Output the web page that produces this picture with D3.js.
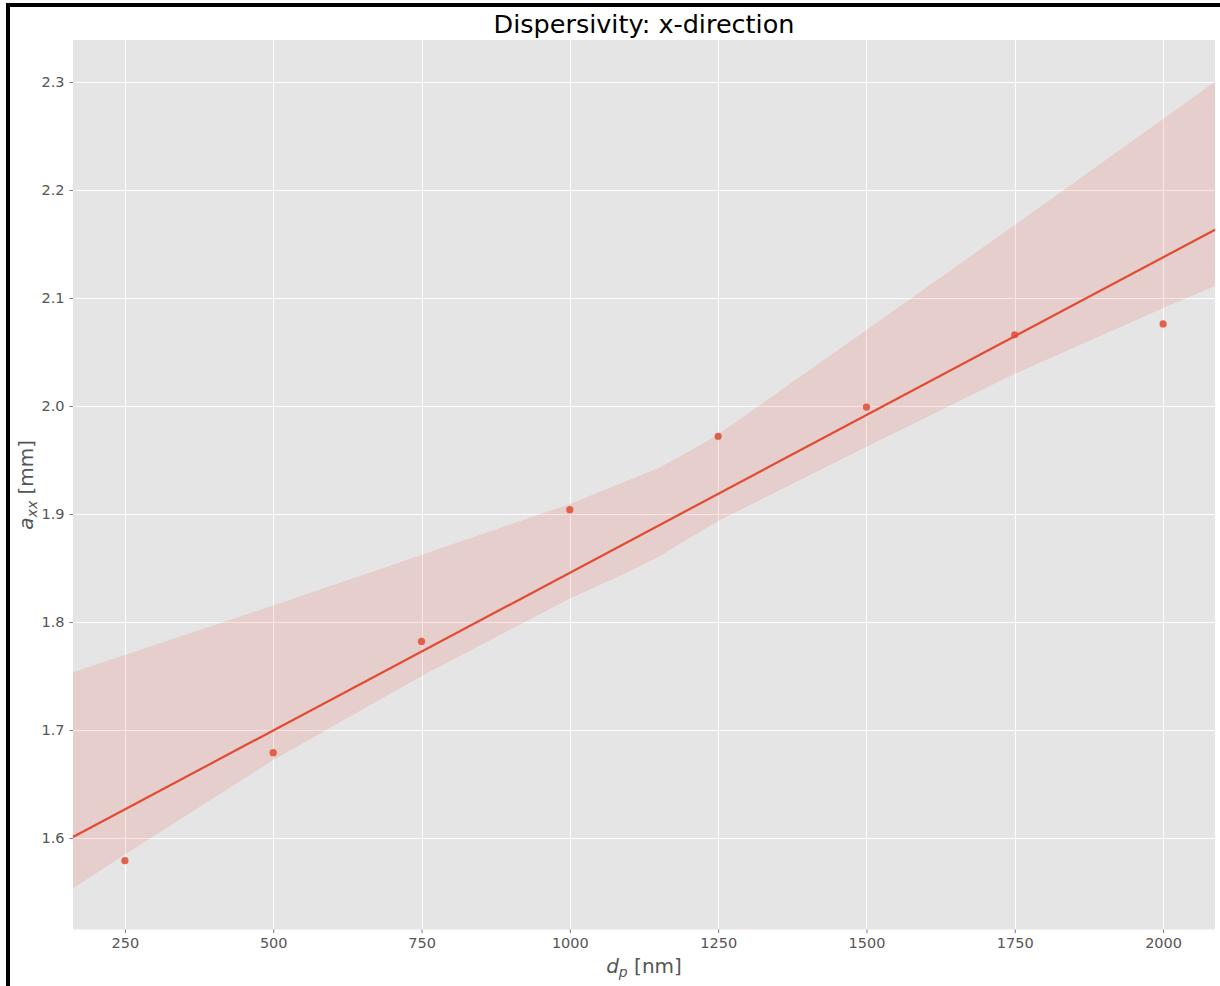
<!DOCTYPE html>
<html>
<head>
<meta charset="utf-8">
<script src="https://cdn.jsdelivr.net/npm/d3@7"></script>
<style>
  html, body { margin: 0; padding: 0; background: #ffffff; }
  svg { display: block; }
  text { font-family: "DejaVu Sans", sans-serif; }
</style>
</head>
<body>
<script>
// Particle diameter (nm) and measured longitudinal dispersivity (mm)
const diameters = [250, 500, 750, 1000, 1250, 1500, 1750, 2000];
const dispersivity = [1.579, 1.679, 1.782, 1.904, 1.972, 1.999, 2.066, 2.076];

// 95% confidence band of the regression (bootstrap), sampled along x
const bandX     = [162.5, 250, 500, 750, 1000, 1100, 1150, 1200, 1250, 1500, 1750, 2000, 2087.5];
const bandUpper = [1.7534, 1.7694, 1.8153, 1.8621, 1.9093, 1.9315, 1.9425, 1.9577, 1.9736, 2.0704, 2.1676, 2.2657, 2.3003];
const bandLower = [1.5534, 1.5847, 1.6722, 1.7500, 1.8218, 1.8467, 1.8605, 1.8774, 1.8935, 1.9623, 2.0299, 2.0907, 2.1111];

// Axis ticks
const xTicks = [250, 500, 750, 1000, 1250, 1500, 1750, 2000];
const yTicks = [1.6, 1.7, 1.8, 1.9, 2.0, 2.1, 2.2, 2.3];

const W = 1220, H = 986;
const plot = { left: 73, top: 40, right: 1215, bottom: 929.5 };
const red = "#E24A33";

const svg = d3.select("body").append("svg")
  .attr("width", W).attr("height", H);

const x = d3.scaleLinear().domain([162.5, 2087.5]).range([plot.left, plot.right]);
const y = d3.scaleLinear().domain([1.5153, 2.3389]).range([plot.bottom, plot.top]);

// Panel background
svg.append("rect")
  .attr("x", plot.left).attr("y", plot.top)
  .attr("width", plot.right - plot.left).attr("height", plot.bottom - plot.top)
  .attr("fill", "#E5E5E5");

// Grid
const grid = svg.append("g").attr("stroke", "#ffffff").attr("stroke-width", 1);
grid.selectAll("line.gx").data(xTicks).join("line")
  .attr("x1", d => Math.round(x(d)) + 0.5).attr("x2", d => Math.round(x(d)) + 0.5)
  .attr("y1", plot.top).attr("y2", plot.bottom);
grid.selectAll("line.gy").data(yTicks).join("line")
  .attr("y1", d => Math.round(y(d)) + 0.5).attr("y2", d => Math.round(y(d)) + 0.5)
  .attr("x1", plot.left).attr("x2", plot.right);

// Confidence band
const band = bandX.map((v, i) => ({ x: v, lo: bandLower[i], hi: bandUpper[i] }));
svg.append("path")
  .datum(band)
  .attr("fill", red).attr("fill-opacity", 0.15)
  .attr("d", d3.area().x(d => x(d.x)).y0(d => y(d.lo)).y1(d => y(d.hi)));

// Least-squares fit through the measurements
const mx = d3.mean(diameters), my = d3.mean(dispersivity);
const sxy = d3.sum(diameters, (d, i) => (d - mx) * (dispersivity[i] - my));
const sxx = d3.sum(diameters, d => (d - mx) * (d - mx));
const slope = sxy / sxx, intercept = my - slope * mx;
const fitX = x.domain();
svg.append("path")
  .datum(fitX.map(v => ({ x: v, y: intercept + slope * v })))
  .attr("fill", "none").attr("stroke", red).attr("stroke-width", 2.2)
  .attr("d", d3.line().x(d => x(d.x)).y(d => y(d.y)));

// Measurements
svg.append("g").selectAll("circle")
  .data(diameters.map((d, i) => ({ x: d, y: dispersivity[i] })))
  .join("circle")
  .attr("cx", d => x(d.x)).attr("cy", d => y(d.y)).attr("r", 3.6)
  .attr("fill", red).attr("fill-opacity", 0.85);

// Axes
const xAxis = svg.append("g")
  .attr("transform", `translate(0,${plot.bottom})`)
  .call(d3.axisBottom(x).tickValues(xTicks).tickFormat(d3.format("d"))
    .tickSizeInner(3.5).tickSizeOuter(0).tickPadding(5));
const yAxis = svg.append("g")
  .attr("transform", `translate(${plot.left},0)`)
  .call(d3.axisLeft(y).tickValues(yTicks).tickFormat(d3.format(".1f"))
    .tickSizeInner(3.5).tickSizeOuter(0).tickPadding(5));
[xAxis, yAxis].forEach(g => {
  g.select(".domain").remove();
  g.selectAll(".tick line").attr("stroke", "#555555").attr("stroke-width", 0.8);
  g.selectAll(".tick text")
    .attr("fill", "#555555")
    .style("font-family", "'DejaVu Sans', sans-serif")
    .style("font-size", "14.5px");
});

// Title
svg.append("text")
  .attr("x", (plot.left + plot.right) / 2).attr("y", 33)
  .attr("text-anchor", "middle")
  .style("font-size", "25.5px").attr("fill", "#000000")
  .text("Dispersivity: x-direction");

// x label: d_p [nm]
const xl = svg.append("text")
  .attr("x", (plot.left + plot.right) / 2).attr("y", 973)
  .attr("text-anchor", "middle")
  .style("font-size", "20px").attr("fill", "#555555");
xl.append("tspan").style("font-style", "italic").text("d");
xl.append("tspan").style("font-style", "italic").style("font-size", "14px").attr("dy", 4).text("p");
xl.append("tspan").attr("dy", -4).text("\u00a0[nm]");

// y label: a_xx [mm]
const yl = svg.append("text")
  .attr("transform", `translate(33,${(plot.top + plot.bottom) / 2}) rotate(-90)`)
  .attr("text-anchor", "middle")
  .style("font-size", "20px").attr("fill", "#555555");
yl.append("tspan").style("font-style", "italic").text("a");
yl.append("tspan").style("font-style", "italic").style("font-size", "14px").attr("dy", 4).text("xx");
yl.append("tspan").attr("dy", -4).text("\u00a0[mm]");

// Frame edges along the top and left
svg.append("path")
  .attr("d", `M8,${H} V5 H${W}`)
  .attr("fill", "none").attr("stroke", "#000000").attr("stroke-width", 4);
</script>
</body>
</html>
